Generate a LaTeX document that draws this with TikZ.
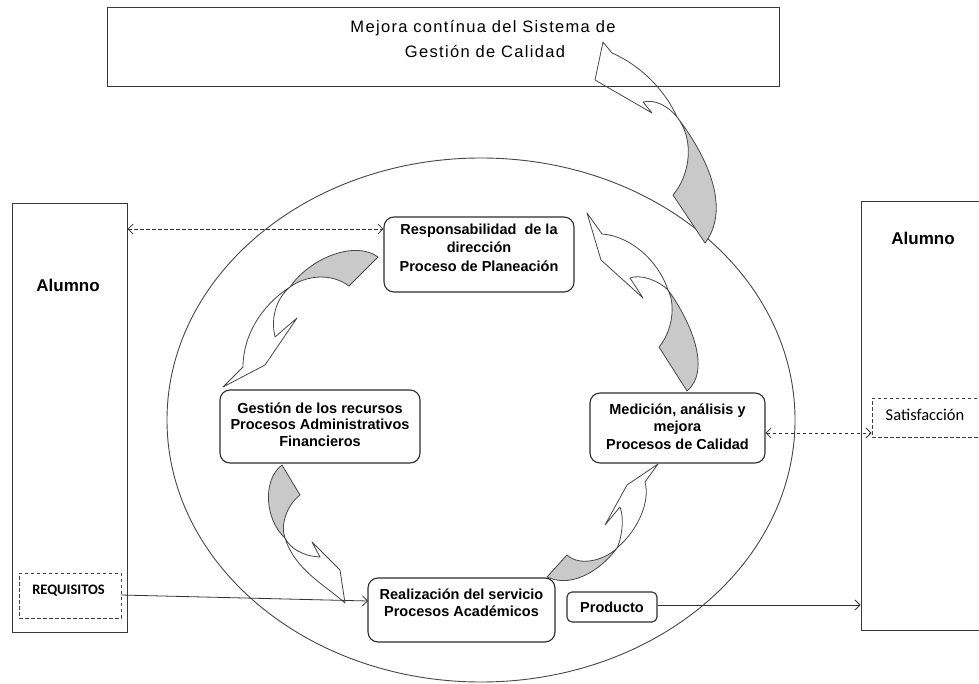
\documentclass[tikz,border=0pt]{standalone}
\usepackage{fontspec}
\setmainfont{Liberation Sans}
\newfontfamily\calib{Carlito}
\usetikzlibrary{arrows.meta}
\tikzset{
  plainbox/.style={draw=black!78, line width=1pt, inner sep=0pt},
  procbox/.style={draw=black!82, line width=1.1pt, rounded corners=10pt, inner sep=0pt},
  dashbox/.style={draw=black!75, line width=0.9pt, dash pattern=on 3.5pt off 2.5pt, inner sep=0pt},
  proctext/.style={align=center, inner sep=0pt, font=\bfseries\fontsize{14.5}{17.5}\selectfont},
  conn/.style={draw=black!80, line width=0.8pt},
  dconn/.style={conn, dash pattern=on 3.5pt off 2.5pt},
  openhead/.style={-{Straight Barb[length=5pt,width=10pt]}},
  openboth/.style={{Straight Barb[length=5pt,width=10pt]}-{Straight Barb[length=5pt,width=10pt]}},
  bandwhite/.style={draw=black!72, line width=0.8pt, line join=round},
  bandgray/.style={bandwhite, fill=black!21},
}
\begin{document}
\begin{tikzpicture}[x=1pt,y=-1pt]
\useasboundingbox (0,0) rectangle (979,684);
\clip (0,0) rectangle (979,684);
\fill[white] (0,0) rectangle (979,684);

% big ellipse
\draw[draw=black!72, line width=0.9pt] (481,420) ellipse [x radius=314, y radius=262];

% top box
\node[plainbox, minimum width=672, minimum height=79] (top) at (443,47.5) {};
\node[anchor=base, inner sep=0pt, font=\fontsize{16.5}{25}\selectfont\addfontfeature{LetterSpace=8}] (top1) at (483,33) {Mejora contínua del Sistema de};
\node[anchor=base, inner sep=0pt, font=\fontsize{16.5}{25}\selectfont\addfontfeature{LetterSpace=8}] (top2) at (485,58) {Gestión de Calidad};

% left Alumno
\node[plainbox, minimum width=115, minimum height=428] (alL) at (69.5,418) {};
\node[anchor=base, inner sep=0pt, font=\bfseries\fontsize{17}{20}\selectfont] (alLt) at (68,292) {Alumno};
\node[dashbox, minimum width=102, minimum height=45] (req) at (70,595.5) {};
\node[anchor=base, inner sep=0pt, font=\calib\bfseries\fontsize{14.5}{17}\selectfont] (reqt) at (68.5,594) {REQUISITOS};

% right Alumno
\node[plainbox, minimum width=140, minimum height=428] (alR) at (931,416) {};
\node[anchor=base, inner sep=0pt, font=\bfseries\fontsize{17}{20}\selectfont] (alRt) at (923,245) {Alumno};
\node[dashbox, minimum width=120, minimum height=39] (sat) at (932,417.5) {};
\node[anchor=base, inner sep=0pt, font=\calib\fontsize{16.5}{20}\selectfont] (satt) at (925,420) {Satisfacción};

% process boxes
\node[procbox, minimum width=190, minimum height=75] (resp) at (479,254.5) {};
\node[proctext, font=\bfseries\fontsize{14.5}{18.5}\selectfont] (respt) at (479,247.5) {Responsabilidad\ \ de la\\dirección\\Proceso de Planeación};

\node[procbox, minimum width=200, minimum height=73] (gest) at (320,426.5) {};
\node[proctext, font=\bfseries\fontsize{14.5}{16.5}\selectfont] (gestt) at (320,424.5) {Gestión de los recursos\\Procesos Administrativos\\Financieros};

\node[procbox, minimum width=175, minimum height=70] (med) at (677.5,428) {};
\node[proctext] (medt) at (677.5,426.5) {Medición, análisis y\\mejora\\Procesos de Calidad};

\node[procbox, minimum width=187, minimum height=64] (real) at (461.5,610) {};
\node[proctext, font=\bfseries\fontsize{14.5}{17}\selectfont] (realt) at (461.5,602.5) {Realización del servicio\\Procesos Académicos};

\node[procbox, rounded corners=5pt, minimum width=90, minimum height=30] (prod) at (612,607) {};
\node[proctext] (prodt) at (612,607) {Producto};

% connectors
\coordinate (yd1) at (0,229);
\coordinate (yd2) at (0,433);
\coordinate (yp) at (0,605);
\draw[dconn, openboth] (alL.east |- yd1) -- (resp.west |- yd1);
\draw[dconn, openboth] (med.east |- yd2) -- (sat.west |- yd2);
\coordinate (reqs) at (121,595);
\coordinate (reale) at (368,601);
\draw[conn, openhead] (reqs) -- (reale);
\draw[conn, openhead] (prod.east |- yp) -- (alR.west |- yp);

% curved band arrows
% 1: to top box
\draw[bandgray] (677,117) .. controls (710,160) and (730,210) .. (705,243) -- (673,195) .. controls (690,175) and (695,140) .. (677,117) -- cycle;
\draw[bandwhite] (603,42) -- (612,53) .. controls (640,65) and (665,90) .. (677,117) .. controls (668,106) and (655,99) .. (643,102) -- (652,113) -- (595,80) -- cycle;

% 2: resp -> med
\draw[bandgray] (668,290) .. controls (690,320) and (712,370) .. (687,391) -- (659,347) .. controls (672,332) and (676,305) .. (668,290) -- cycle;
\draw[bandwhite] (587,213) -- (602,234) .. controls (630,236) and (658,260) .. (668,290) .. controls (658,280) and (640,274) .. (630,278) -- (643,298) -- (601,260) -- cycle;

% 3: resp -> gest
\draw[bandgray] (378,257) .. controls (355,240) and (310,258) .. (290,287) .. controls (305,276) and (330,272) .. (349,286) -- cycle;
\draw[bandwhite] (290,287) .. controls (262,305) and (243,335) .. (243,367) -- (223,387) -- (265,365) -- (297,318) -- (275,337) .. controls (270,315) and (278,297) .. (290,287) -- cycle;

% 4: gest -> real
\draw[bandgray] (282,465) .. controls (262,480) and (265,520) .. (285,538) .. controls (280,525) and (287,505) .. (300,495) -- cycle;
\draw[bandwhite] (285,538) .. controls (295,570) and (325,585) .. (345,603) -- (340,570) -- (312,542) -- (320,557) .. controls (302,556) and (290,548) .. (285,538) -- cycle;

% 5: real -> med
\draw[bandgray] (547,577) .. controls (575,590) and (605,565) .. (617,548) .. controls (605,560) and (580,567) .. (567,555) -- cycle;
\draw[bandwhite] (617,548) .. controls (640,528) and (650,500) .. (645,482) -- (658,464) -- (627,485) -- (605,525) -- (620,507) .. controls (625,520) and (621,540) .. (617,548) -- cycle;
\end{tikzpicture}
\end{document}
